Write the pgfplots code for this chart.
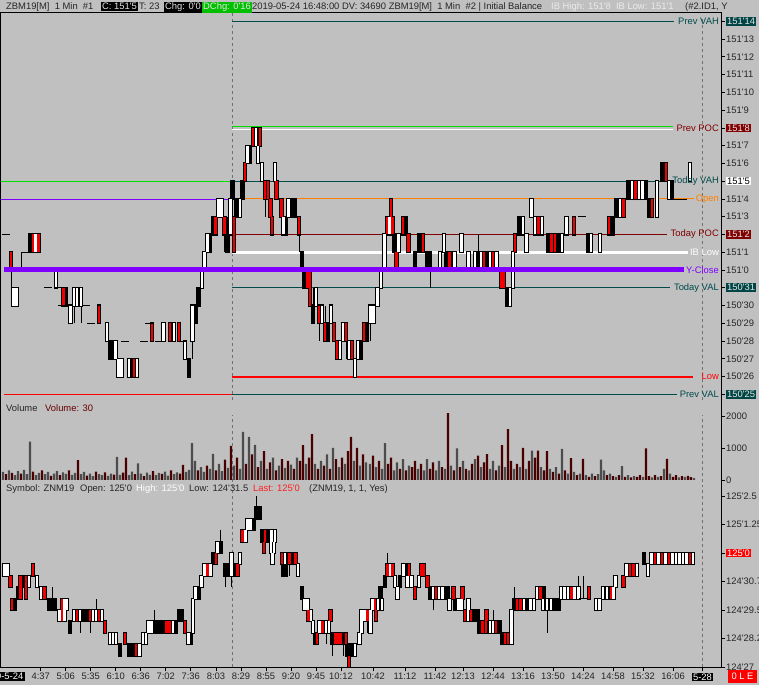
\documentclass[border=0pt]{standalone}
\usepackage{pgfplots}
\pgfplotsset{compat=1.18}
\usepackage{pgfplotstable}
\usepackage{fontspec}
\setmainfont{Liberation Sans}[Ligatures=TeXOff]
\definecolor{bg}{HTML}{C0C0C0}
\definecolor{labc}{HTML}{262626}
\definecolor{tealbox}{HTML}{004545}
\definecolor{tealline}{HTML}{004A4A}
\definecolor{maroon}{HTML}{800000}
\definecolor{boxtxt}{HTML}{E4E4E4}
\definecolor{ycl}{HTML}{8000FF}
\definecolor{openc}{HTML}{FF8000}
\definecolor{grn}{HTML}{00E000}
\definecolor{volg}{HTML}{4C4C4C}
\definecolor{volr}{HTML}{4A0000}
\definecolor{candr}{HTML}{F00000}
\definecolor{dashc}{HTML}{707070}
\definecolor{greenbox}{HTML}{00C000}
\definecolor{lastred}{HTML}{FF2020}
\newcommand{\lab}{\fontsize{9.4}{11}\selectfont}
\setlength{\fboxsep}{1pt}
\newcommand{\hb}[3]{\colorbox{#1}{\textcolor{#2}{#3}}}

\pgfplotstableread[row sep=\\]{
x lo hi c wl wh\\
6 34 34 3 34 34\\ 11 32 33 2 31 33\\ 13.5 30 31 0 30 31\\ 16.5 30 31 0 30 31\\ 21 32 32 3 32 33\\
26 33 33 3 33 33\\ 30.5 33 34 1 33 34\\ 33 33 34 2 33 34\\ 35.5 33 34 0 33 34\\ 38.5 33 34 2 33 34\\
44 32 32 3 32 32\\ 48 31 31 3 31 31\\ 53 32 32 3 32 32\\ 56 31 32 0 31 32\\ 59 31 31 3 31 31\\
62 30 30 3 30 30\\ 63.5 30 31 2 30 31\\ 66 30 31 1 30 31\\ 70.5 29 30 0 29 30\\ 74 30 31 0 29 31\\
77 30 31 0 30 31\\ 81 30 31 0 29 31\\ 86 30 30 3 30 30\\ 91 29 29 3 29 29\\ 99 29 30 2 29 30\\
107 28 29 0 28 29\\ 110 27 28 1 27 28\\ 113 27 28 1 27 28\\ 115.5 27 28 0 27 28\\ 118.5 26 27 0 26 27\\
121.5 26 27 0 26 27\\ 125 28 28 3 28 28\\ 129 26 27 0 26 27\\ 131.5 26 27 1 26 27\\ 134 26 27 2 26 27\\
137 26 27 0 26 27\\ 144 28 28 3 28 28\\ 149 29 29 3 29 29\\ 152 28 29 2 28 29\\ 159 28 28 3 28 28\\
163.5 28 29 0 28 29\\ 170 28 29 2 28 29\\ 174 28 29 0 28 29\\ 179 28 29 2 28 29\\ 182 28 28 3 28 28\\
185 27 28 0 27 28\\ 189 26 27 1 26 27\\ 192.5 28 30 0 27 30\\ 195.5 29 30 1 29 30\\ 198.5 30 31 1 30 31\\
202 31 32 0 31 32\\ 204.5 32 33 0 32 33\\ 207.5 33 34 0 33 34\\ 210 33 34 1 33 34\\ 213 34 35 1 34 35\\
215.5 34 35 2 34 35\\ 218.5 35 36 0 35 36\\ 221.5 35 36 0 35 36\\ 224.5 34 35 2 33 35\\ 227.5 33 34 1 33 35\\
230.5 34 36 0 34 36\\ 232.5 36 37 1 36 37\\ 234 33 35 2 33 36\\ 237 35 36 1 35 36\\ 240 35 36 0 35 36\\
242.5 36 37 1 36 37\\ 245 37 38 2 37 38\\ 247.5 38 39 0 38 39\\ 250 38 39 1 38 39\\ 253 39 40 2 39 40\\
256 39 40 0 39 40\\ 258 38 39 0 38 39\\ 260 39 40 2 39 40\\ 262 37 38 0 37 38\\ 265 36 37 2 35 37\\
268 36 37 2 36 37\\ 270.5 35 36 2 35 36\\ 272 34 35 2 34 35\\ 275 37 38 0 37 38\\ 276.5 36 37 2 36 37\\
281.5 35 36 2 35 36\\ 283.5 34 35 0 34 35\\ 286 34 35 1 34 35\\ 288.5 35 36 0 35 36\\ 291.5 35 36 1 35 36\\
295 35 36 1 35 36\\ 299 34 35 2 33 35\\ 302 32 33 1 32 33\\ 304.5 31 32 1 31 32\\ 307.5 31 32 2 31 32\\
310 30 32 2 30 32\\ 313 29 30 1 29 31\\ 316 30 31 0 30 31\\ 319 29 30 2 28 30\\ 322 29 30 0 29 30\\
325 28 29 2 28 30\\ 328 28 29 1 28 29\\ 331 29 30 0 29 30\\ 334 28 29 2 28 29\\ 337 27 28 2 27 28\\
340 27 28 0 27 28\\ 343 28 29 0 28 29\\ 346 28 29 2 27 29\\ 349 27 28 0 27 28\\ 352 27 28 2 27 28\\
355 26 27 0 26 27\\ 358 27 28 0 27 28\\ 361 27 28 1 27 28\\ 364 28 29 2 28 29\\ 367 28 29 1 28 29\\
370.5 29 30 0 28 30\\ 373.5 29 30 0 29 30\\ 377.5 30 31 0 30 31\\ 381 31 32 0 31 32\\ 384.5 32 34 0 32 34\\
387 34 35 2 34 35\\ 389.5 34 35 0 34 35\\ 391 35 36 2 35 36\\ 392.5 34 35 2 34 35\\ 394.5 33 34 1 33 34\\
396.5 32 33 2 32 33\\ 398.5 33 34 0 33 34\\ 403 34 35 2 34 35\\ 405.5 34 35 1 34 35\\ 408.5 33 34 2 33 34\\
415 32 33 1 32 33\\ 419.5 33 34 1 33 34\\ 423 33 34 2 33 34\\ 427 32 33 1 32 33\\ 430 32 33 1 31 33\\
440 32 33 0 32 33\\ 444 33 34 0 33 34\\ 446.5 32 33 1 32 33\\ 449.5 32 33 2 32 33\\ 454.5 32 33 0 32 33\\
461.5 33 34 0 33 34\\ 468.5 32 33 0 32 33\\ 475 32 33 0 32 33\\ 478 32 33 1 32 34\\ 481 32 33 0 32 33\\
484 32 33 2 32 33\\ 487 32 33 1 32 33\\ 490 32 33 0 32 33\\ 493 32 33 2 32 33\\ 496.5 32 33 0 32 33\\
501.5 31 32 2 31 32\\ 504 31 32 2 31 32\\ 507.5 30 31 1 30 31\\ 510 30 31 0 30 31\\ 513 31 33 0 31 33\\
515 33 34 2 33 34\\ 519 34 35 1 34 35\\ 523 34 35 0 34 35\\ 526.5 33 34 0 33 34\\ 531.5 35 36 0 35 36\\
535 34 35 0 34 35\\ 538.5 34 35 2 34 35\\ 542 34 35 0 34 35\\ 548 33 34 1 33 34\\ 551.5 33 34 2 33 34\\
555 33 34 2 33 34\\ 558.5 33 34 1 33 34\\ 562 33 34 0 33 34\\ 566.5 34 35 0 34 35\\ 574 34 35 2 34 35\\
582 35 35 3 35 35\\ 588 33 34 1 33 34\\ 591 33 34 0 33 34\\ 600 33 34 0 33 34\\ 609 34 35 2 34 35\\
613 34 35 1 34 35\\ 616.5 35 36 1 35 36\\ 620 35 36 0 35 36\\ 623.5 35 36 2 35 36\\ 628.5 36 37 1 36 37\\
632 36 37 0 36 37\\ 635.5 36 37 2 36 37\\ 639 36 37 0 36 37\\ 642.5 36 37 0 36 37\\ 646 36 37 1 36 37\\
649.5 35 36 1 35 36\\ 652 35 36 2 35 36\\ 657 35 37 0 35 37\\ 662 37 38 1 37 38\\ 666 37 38 2 37 38\\
669 36 37 0 36 37\\ 672 36 37 1 36 37\\ 678 36 36 3 36 36\\ 683 36 36 3 36 36\\ 690 37 38 0 37 38\\
}\toptab

\pgfplotstableread[row sep=\\]{
x lo hi c wl wh\\
4.5 31 31.5 0 31 31.5\\ 7.5 31 31.5 0 31 31.5\\ 10.5 30.5 31 2 30.5 31\\ 12 29.5 30 2 29.5 30\\ 14.5 29.5 30 1 29.5 30\\
18 30 30.5 1 30 30.5\\ 20.5 30 31 2 30 31\\ 23.5 30.5 31 1 30.5 31\\ 26 30 31 2 30 31\\ 29 30.5 31 0 30.5 31\\
33 31 31.5 2 31 31.5\\ 37 30.5 31 0 30.5 31\\ 41 30 30.5 0 30 30.5\\ 44.5 30 30.5 2 30 30.5\\ 49 29.5 30 1 29.5 30\\
52 29.5 30 1 29.5 30.5\\ 55 29.5 30 1 29.5 30\\ 59.5 29 29.5 0 29 29.5\\ 62 29 30 2 29 30\\ 64.5 29 30 0 29 30\\
67 29.5 30 0 29.5 30\\ 70 28.5 29 1 28.5 29\\ 74 29 29.5 0 29 29.5\\ 77 29 29.5 2 29 29.5\\ 80 29 29.5 0 28.5 29.5\\
84 29 29.5 1 29 29.5\\ 87 29 29.5 1 29 29.5\\ 90 29 29.5 2 28.5 29.5\\ 93 29 29.5 0 29 29.5\\ 96 29 29.5 0 29 30\\
99 29 29.5 2 29 29.5\\ 102 29 29.5 0 29 29.5\\ 105 28.5 29 2 28.5 29\\ 110 28 28.5 0 28 28.5\\ 113 28 28.5 0 28 28.5\\
116 28 28.5 0 28 28.5\\ 120 27.5 28 1 27.5 28\\ 125 28 28.5 2 28 28.5\\ 129.5 27.5 28 1 27.5 28\\ 133 27.5 28 1 27.5 28\\
136 27.5 28 2 27.5 28\\ 139.5 27.5 28 0 27.5 28\\ 143 28 28.5 0 28 28.5\\ 146 28 28.5 0 28 28.5\\ 148.5 28.5 29 0 28.5 29\\
151.5 28.5 29 0 28.5 29\\ 154.5 28.5 29 1 28.5 29.5\\ 157.5 28.5 29 1 28.5 29\\ 160.5 28.5 29 1 28.5 29\\ 163.5 28.5 29 1 28.5 29\\
166.5 28.5 29 2 28.5 29\\ 169.5 28.5 29 2 28.5 29\\ 173 28.5 29 0 28.5 29\\ 176 28.5 29 1 28.5 29\\ 179 29 29.5 1 29 29.5\\
181.5 29 29.5 1 29 29.5\\ 185 28.5 29 2 28.5 29\\ 188.5 28 28.5 0 28 28.5\\ 190.5 28 28.5 1 28 28.5\\ 193 28.5 30 0 28.5 30\\
195.5 30 30.5 0 30 30.5\\ 199 30 30.5 1 30 30.5\\ 201.5 30.5 31 0 30.5 31\\ 204.5 31 31.5 0 31 31.5\\ 207.5 31 31.5 2 31 31.5\\
210.5 31 31.5 0 31 31.5\\ 213.5 31.5 32 1 31.5 32\\ 216 31.5 32 2 31.5 32\\ 217.5 32 32.5 0 32 32.5\\ 220.5 32 32.5 1 32 33\\
225.5 31 31.5 1 30.5 31.5\\ 228.5 31 31.5 1 31 31.5\\ 231.5 31 32 0 30.5 32\\ 234.5 31 31.5 1 31 31.5\\ 237.5 31 31.5 2 31 31.5\\
240 31.5 32 0 31.5 32\\ 242.5 32.5 33 2 32.5 33\\ 245.5 32.5 33 0 32.5 33\\ 247.5 33 33.5 0 33 33.5\\ 250.5 33 33.5 0 33 33.5\\
253.5 33 33.5 1 33 33.5\\ 256.5 33.5 34 1 33.5 34.5\\ 259.5 33.5 34 1 33.5 34\\ 262 32.5 33 1 32.5 33\\ 264 32 32.5 2 32 32.5\\
265 32.5 33 2 32.5 33\\ 268 32.5 33 1 32.5 33\\ 271.5 32.5 33 0 32.5 33\\ 275 32.5 33 0 32.5 33\\ 271 32 32.5 0 31.5 32.5\\
274 32 32.5 0 32 32.5\\ 272.5 31.5 32 0 31.5 32\\ 282 31.5 32 2 31.5 32\\ 285 31.5 32 0 31.5 32\\ 283 31 31.5 1 31 31.5\\
286 31 31.5 1 31 31.5\\ 289.5 31.5 32 2 31 32\\ 292.5 31.5 32 1 31.5 32\\ 295.5 31.5 32 2 31.5 32\\ 298 31 31.5 0 31 31.5\\
302 30 30.5 1 30 30.5\\ 304.5 29.5 30 0 29.5 30\\ 307.5 29.5 30 0 29.5 30\\ 308.5 29 29.5 2 29 29.5\\ 311 29 29.5 0 28.5 29.5\\
313 28.5 29 0 28.5 29\\ 315 28 28.5 1 28 28.5\\ 317 28 28.5 2 28 28.5\\ 319.5 28.5 29 0 28.5 29\\ 322.5 28.5 29 2 28.5 29\\
326 28.5 29 0 28 29\\ 329 28.5 29 0 28.5 29\\ 330.5 29 29.5 2 29 29.5\\ 332.5 28 28.5 1 27.5 28.5\\ 335.5 28 28.5 2 28 28.5\\
338 28 28.5 2 28 28.5\\ 340.5 28 28.5 2 28 28.5\\ 343 28 28.5 1 27.5 28.5\\ 346 28 28.5 2 28 28.5\\ 347.5 27.5 28 1 27.5 28\\
349 27 27.5 2 27 27.5\\ 351.5 27.5 28 1 27.5 28\\ 355 27.5 28 0 27.5 28\\ 359.5 28 28.5 0 28 28.5\\ 361.5 28.5 29.5 0 28.5 29.5\\
364.5 29 29.5 0 29 29.5\\ 367.5 29 29.5 2 28.5 29.5\\
370.5 28.5 29.5 0 28.5 29.5\\ 372.5 29.5 30 0 29.5 30\\ 375 29.5 30 2 29.5 30\\ 376 29 29.5 2 29 29.5\\ 378 29.5 30 0 29.5 30\\
380.5 30 30.5 1 30 30.5\\ 382 29.5 30 0 29.5 30\\ 385 30.5 31 1 30.5 31\\ 387.5 31 31.5 2 31 32\\ 390 31 31.5 0 31 31.5\\
392.5 31 31.5 2 31 31.5\\ 395 30.5 31 0 30.5 31\\ 397.5 30 30.5 0 30 30.5\\ 400 30.5 31 1 30.5 31\\ 403.5 31 31.5 0 31 31.5\\
406 31 31.5 1 31 31.5\\ 407.5 30.5 31 0 30.5 31\\ 409 31 31.5 2 31 31.5\\ 411.5 30.5 31 0 30.5 31\\ 415 30 30.5 2 30 30.5\\
419 30.5 31 0 30.5 31\\ 421 31 31.5 2 31 31.5\\ 423.5 31 31.5 2 31 31.5\\ 427.5 30.5 31 2 30.5 31\\ 430 30 30.5 1 30 30.5\\
433 30 30.5 0 29.5 30.5\\ 436 30 30.5 2 30 30.5\\ 439 30 30.5 0 30 30.5\\ 442.5 30 30.5 0 30 30.5\\ 447.5 30 30.5 1 30 30.5\\
449.5 29.5 30 0 29.5 30\\ 453.5 30 30.5 2 30 30.5\\ 455.5 29.5 30 1 29.5 30\\ 458.5 29.5 30 0 29.5 30\\ 461.5 29.5 30 0 29.5 30\\
462.5 30 30.5 2 30 30.5\\ 465 29 29.5 2 29 29.5\\ 468 29 29.5 0 29 29.5\\ 468.5 29.5 30 0 29.5 30\\ 471 29 29.5 2 29 29.5\\
475 29 29.5 1 29 29.5\\ 478 29 29.5 1 29 29.5\\ 479.5 28.5 29 1 28.5 29\\ 482.5 28.5 29 2 28.5 29\\ 486.5 29 29.5 2 29 29.5\\
486 28.5 29 2 28.5 29\\ 490 28.5 29 0 28.5 29\\ 493 28.5 29 0 28.5 29.5\\ 496 28.5 29 2 28.5 29\\ 499.5 28.5 29 1 28.5 29\\
502 28 28.5 1 28 28.5\\ 505 28 28.5 2 28 28.5\\ 508 28 28.5 2 28 28.5\\ 511.5 28 29.5 0 28 29.5\\ 514.5 29.5 30 1 29.5 30.5\\
517 29.5 30 2 29.5 30\\ 520.5 29.5 30 2 29.5 30\\ 524 29.5 30 0 29.5 30\\ 527 29.5 30 1 29.5 30\\ 530.5 29.5 30 0 29.5 30\\
534 29.5 30 0 29.5 30\\ 537 30 30.5 0 30 30.5\\ 540.5 30 30.5 2 30 30.5\\ 544 30 30.5 1 30 30.5\\ 543 29.5 30 0 29.5 30\\
547 29.5 30 0 28.5 30\\ 551 29.5 30 0 29.5 30\\ 555 29.5 30 1 29.5 30\\ 558.5 29.5 30 1 29.5 30\\ 561 30 30.5 0 30 30.5\\
564.5 30 30.5 0 30 30.5\\ 568 30 30.5 0 30 30.5\\ 571.5 30 30.5 2 30 30.5\\ 574.5 30 30.5 0 30 30.5\\ 578.5 30 30.5 0 30 31\\
583 30 30 3 30 31\\ 589 30 30.5 2 30 30.5\\ 596 29.5 30 0 29.5 30\\ 599.5 29.5 30 0 29.5 30\\ 603 30 30.5 0 30 30.5\\
607 30 30.5 0 30 30.5\\ 611 30 30.5 2 30 30.5\\ 613.5 30 30.5 0 30 30.5\\ 615.5 30.5 31 0 30.5 31\\ 623.5 30.5 31 2 30.5 31\\
626.5 31 31.5 0 31 31.5\\ 630 31 31.5 2 31 31.5\\ 633.5 31 31.5 2 31 31.5\\ 637 31 31.5 0 31 31.5\\ 644 31.5 32 1 31.5 32\\
648 31 31.5 0 31 31.5\\ 651.5 31.5 32 0 31.5 32\\ 655 31.5 32 2 31.5 32\\ 658.5 31.5 32 0 31.5 32\\ 662 31.5 32 2 31.5 32\\
665.5 31.5 32 0 31.5 32\\ 669 31.5 32 2 31.5 32\\ 672.5 31.5 32 0 31.5 32\\ 676 31.5 32 0 31.5 32\\ 679.5 31.5 32 0 31.5 32\\
683 31.5 32 0 31.5 32\\ 686.5 31.5 32 0 31.5 32\\ 690 31.5 32 2 31.5 32\\ 693 31.5 32 0 31.5 32\\
}\lowtab

\pgfplotstableread[row sep=\\]{
x v c\\
3 250 0\\ 6 180 1\\ 9 300 0\\ 12 220 1\\ 15 150 0\\ 18 280 0\\ 21 200 1\\ 24 320 0\\ 27 180 0\\ 30 1200 0\\
33 260 1\\ 36 150 0\\ 39 220 0\\ 42 300 1\\ 45 180 0\\ 48 250 0\\ 51 130 1\\ 54 200 0\\ 57 280 0\\ 60 150 1\\
63 240 0\\ 66 190 0\\ 69 300 1\\ 72 160 0\\ 75 220 0\\ 78 620 1\\ 81 180 0\\ 84 250 0\\ 87 140 1\\ 90 200 0\\
93 120 0\\ 96 260 1\\ 99 180 0\\ 102 150 0\\ 105 240 1\\ 108 130 0\\ 111 200 0\\ 114 170 1\\ 117 720 0\\ 120 160 0\\
123 230 1\\ 126 700 1\\ 129 150 0\\ 132 260 0\\ 135 180 1\\ 138 520 0\\ 141 200 0\\ 144 120 1\\ 147 230 0\\ 150 160 0\\
153 280 1\\ 156 150 0\\ 159 220 0\\ 162 190 1\\ 165 260 0\\ 168 140 0\\ 171 300 1\\ 174 180 0\\ 177 240 0\\ 180 200 1\\
183 470 1\\ 186 250 0\\ 189 320 0\\ 192 1150 0\\ 195 600 0\\ 198 300 1\\ 201 400 0\\ 204 250 0\\ 207 450 1\\ 210 350 0\\
213 820 0\\ 216 300 1\\ 219 500 0\\ 222 280 0\\ 225 640 1\\ 228 380 0\\ 231 1070 1\\ 234 450 0\\ 237 700 1\\ 240 350 0\\
243 1500 0\\ 246 500 1\\ 249 1350 0\\ 252 800 1\\ 255 1100 0\\ 258 400 1\\ 261 600 0\\ 264 900 1\\ 267 350 0\\ 270 550 1\\
273 700 0\\ 276 300 1\\ 279 450 0\\ 282 650 1\\ 285 380 0\\ 288 600 1\\ 291 480 0\\ 294 350 1\\ 297 700 0\\ 300 600 1\\
303 1090 1\\ 306 500 0\\ 309 700 1\\ 312 1430 1\\ 315 500 0\\ 318 350 1\\ 321 600 0\\ 324 450 1\\ 327 800 0\\ 330 350 1\\
333 1000 0\\ 336 650 1\\ 339 400 0\\ 342 700 1\\ 345 500 0\\ 348 900 1\\ 351 1350 1\\ 354 600 0\\ 357 1000 1\\ 360 450 0\\
363 800 1\\ 366 550 0\\ 370 500 0\\ 373 760 1\\ 376 400 0\\ 379 600 1\\ 382 350 0\\ 385 1150 0\\ 388 500 1\\ 391 700 1\\
394 300 0\\ 397 550 0\\ 400 350 1\\ 403 650 0\\ 406 300 1\\ 409 450 0\\ 412 400 1\\ 415 600 1\\ 418 350 0\\ 421 500 1\\
424 300 0\\ 427 650 0\\ 430 350 1\\ 433 550 1\\ 436 300 0\\ 439 600 0\\ 442 400 1\\ 445 350 0\\ 448 2090 1\\ 451 450 0\\
454 300 1\\ 457 990 0\\ 460 400 1\\ 463 600 0\\ 466 350 1\\ 469 300 0\\ 472 500 1\\ 475 650 0\\ 478 760 1\\ 481 400 0\\
484 550 1\\ 487 810 1\\ 490 350 0\\ 493 600 0\\ 496 300 1\\ 499 450 0\\ 502 1090 1\\ 505 400 0\\ 508 1590 1\\ 511 600 1\\
514 350 0\\ 517 500 1\\ 520 400 0\\ 523 1000 1\\ 526 350 0\\ 529 600 1\\ 532 920 0\\ 535 700 1\\ 538 920 1\\ 541 400 0\\
544 300 1\\ 547 900 1\\ 550 350 0\\ 553 250 1\\ 556 400 0\\ 559 200 1\\ 562 970 0\\ 565 300 1\\ 568 200 0\\ 571 680 1\\
574 250 0\\ 577 150 1\\ 580 200 0\\ 583 660 1\\ 586 150 0\\ 589 100 1\\ 592 200 0\\ 595 120 1\\ 598 180 0\\ 601 640 0\\
604 300 0\\ 607 150 1\\ 610 200 0\\ 613 120 1\\ 616 100 0\\ 619 150 1\\ 622 430 0\\ 625 100 1\\ 628 150 0\\ 631 80 1\\
634 120 0\\ 637 100 1\\ 640 150 1\\ 643 100 0\\ 646 990 1\\ 649 120 1\\ 652 80 0\\ 655 150 1\\ 658 100 0\\ 661 120 1\\
664 350 0\\ 667 660 1\\ 670 200 0\\ 673 100 1\\ 676 150 1\\ 679 80 0\\ 682 120 1\\ 685 100 0\\ 688 130 1\\ 691 90 1\\
694 60 0\\
}\voltab

\pgfplotsset{
  panel/.style={
    scale only axis, width=721pt, xmin=0, xmax=721,
    clip=false,
    axis y line*=right,
    axis line style={-, black, line width=1pt},
    tick style={black, line width=0.8pt},
    tick align=outside,
    major tick length=4pt,
    minor tick num=0,
    ticklabel style={font=\lab, text=labc},
    yticklabel style={anchor=west, inner sep=0pt, xshift=1pt},
  },
  nomk/.style={only marks, mark=none, mark size=0pt, mark options={draw=none, fill=none}},
  seg/.style 2 args={nomk, error bars/.cd, y dir=plus, y explicit, error mark=none,
    error bar style={line width=#1, #2, line cap=butt}, /pgfplots/.cd},
}

\begin{document}
\begin{tikzpicture}
\fill[bg] (0,0) rectangle (759pt,685pt);

% ---------------- top panel ----------------
\begin{axis}[panel, at={(0pt,285pt)}, anchor=south west, height=387.7pt,
  axis x line=none, ymin=24.68, ymax=46.51,
  ytick={25,26,...,46},
  yticklabels={\hb{tealbox}{boxtxt}{150'25},150'26,150'27,150'28,150'29,150'30,\hb{tealbox}{boxtxt}{150'31},
    151'0,151'1,\hb{maroon}{boxtxt}{151'2},151'3,151'4,\hb{white}{black}{151'5},151'6,151'7,\hb{maroon}{boxtxt}{151'8},
    151'9,151'10,151'11,151'12,151'13,\hb{tealbox}{boxtxt}{151'14}}]
\addplot[dashc, dash pattern=on 3pt off 3pt, line width=0.8pt] coordinates {(232,24.68)(232,46.51)};
\addplot[dashc, dash pattern=on 3pt off 3pt, line width=0.8pt] coordinates {(702.5,24.68)(702.5,46.2)};
% level lines
\addplot[tealline, line width=1pt] coordinates {(232,46)(674,46)};
\addplot[grn, line width=1.6pt] coordinates {(232,40.07)(673,40.07)};
\addplot[white, line width=1pt] coordinates {(232,39.93)(673,39.93)};
\addplot[grn, line width=0.8pt] coordinates {(0,37)(232,37)};
\addplot[ycl, line width=0.8pt] coordinates {(0,36)(232,36)};
\addplot[tealline, line width=1pt] coordinates {(232,37)(668,37)};
\addplot[openc, line width=1pt] coordinates {(232,36)(694,36)};
\addplot[maroon, line width=1pt] coordinates {(232,34)(667,34)};
\addplot[white, line width=3pt] coordinates {(232,33)(688,33)};
\addplot[tealline, line width=1pt] coordinates {(232,31)(670,31)};
\addplot[red, line width=2pt] coordinates {(232,26)(693,26)};
\addplot[tealline, line width=1pt] coordinates {(232,25)(677,25)};
\addplot[red, line width=1.3pt] coordinates {(4,25)(232,25)};
% candles
\addplot[seg={1pt}{black}] table[x=x, y=wl, y error expr={\thisrow{wh}-\thisrow{wl}}] {\toptab};
\addplot[x filter/.expression={\thisrow{c}<3 ? x : nan}, seg={4.3pt}{black}]
  table[x=x, y expr={\thisrow{lo}-0.06}, y error expr={\thisrow{hi}-\thisrow{lo}+0.12}] {\toptab};
\addplot[x filter/.expression={\thisrow{c}==0 ? x : nan}, seg={2.3pt}{white}]
  table[x=x, y=lo, y error expr={\thisrow{hi}-\thisrow{lo}}] {\toptab};
\addplot[x filter/.expression={\thisrow{c}==2 ? x : nan}, seg={2.3pt}{candr}]
  table[x=x, y=lo, y error expr={\thisrow{hi}-\thisrow{lo}}] {\toptab};
\addplot[nomk, x filter/.expression={\thisrow{c}==3 ? x : nan},
  error bars/.cd, x dir=both, x explicit, error mark=none, error bar style={line width=0.9pt, black}]
  table[x=x, y=lo, x error expr=4] {\toptab};
\addplot[ycl, line width=5pt] coordinates {(4,32)(684,32)};
% line labels
\node[anchor=east, inner sep=0pt, font=\lab, text=tealline] at (axis cs:719,46) {Prev VAH};
\node[anchor=east, inner sep=0pt, font=\lab, text=maroon] at (axis cs:719,40) {Prev POC};
\node[anchor=east, inner sep=0pt, font=\lab, text=tealline] at (axis cs:719,37) {Today VAH};
\node[anchor=east, inner sep=0pt, font=\lab, text=openc] at (axis cs:719,36) {Open};
\node[anchor=east, inner sep=0pt, font=\lab, text=maroon] at (axis cs:719,34) {Today POC};
\node[anchor=east, inner sep=0pt, font=\lab, text=white] at (axis cs:719,33) {IB Low};
\node[anchor=east, inner sep=0pt, font=\lab, text=ycl] at (axis cs:719,32) {Y-Close};
\node[anchor=east, inner sep=0pt, font=\lab, text=tealline] at (axis cs:719,31) {Today VAL};
\node[anchor=east, inner sep=0pt, font=\lab, text=red] at (axis cs:719,26) {Low};
\node[anchor=east, inner sep=0pt, font=\lab, text=tealline] at (axis cs:719,25) {Prev VAL};
\end{axis}

% ---------------- volume panel ----------------
\begin{axis}[panel, at={(0pt,202pt)}, anchor=south west, height=83pt,
  axis x line=none, ymin=-94, ymax=2500,
  ytick={0,1000,2000}, yticklabels={0,1000,2000}]
\addplot[dashc, dash pattern=on 3pt off 3pt, line width=0.8pt] coordinates {(232,-60)(232,2030)};
\addplot[dashc, dash pattern=on 3pt off 3pt, line width=0.8pt] coordinates {(702.5,-60)(702.5,2030)};
\addplot[ybar, bar width=2.4pt, bar shift=0pt, fill=volg, draw=none, x filter/.expression={\thisrow{c}==0 ? x : nan}] table[x=x, y=v] {\voltab};
\addplot[ybar, bar width=2.4pt, bar shift=0pt, fill=volr, draw=none, x filter/.expression={\thisrow{c}==1 ? x : nan}] table[x=x, y=v] {\voltab};
\end{axis}

% ---------------- lower panel ----------------
\begin{axis}[panel, at={(0pt,17.7pt)}, anchor=south west, height=184.3pt,
  axis x line*=bottom, ymin=26.99, ymax=35.07,
  ytick={27,28.25,29.5,30.75,32,33.25,34.5},
  yticklabels={124'27,124'28.25,124'29.5,124'30.75,\hb{red}{white}{125'0},125'1.25,125'2.5},
  xtick={40.7,65.7,90.7,115.7,140.7,165.7,190.7,216,241,266,291,316,341,373,405,435,463,493,523,553,583,613,643,673,702.5},
  xticklabels={4:37,5:06,5:35,6:10,6:36,7:02,7:36,8:03,8:29,8:55,9:20,9:45,10:12,10:42,11:12,11:42,12:13,12:44,13:16,13:50,14:24,14:58,15:32,16:06,\hb{black}{white}{5-28}},
  xticklabel style={anchor=north, inner sep=0pt, yshift=-1pt}]
\addplot[dashc, dash pattern=on 3pt off 3pt, line width=0.8pt] coordinates {(232,26.99)(232,34.98)};
\addplot[dashc, dash pattern=on 3pt off 3pt, line width=0.8pt] coordinates {(702.5,26.99)(702.5,34.98)};
\addplot[seg={1pt}{black}] table[x=x, y=wl, y error expr={\thisrow{wh}-\thisrow{wl}}] {\lowtab};
\addplot[x filter/.expression={\thisrow{c}<3 ? x : nan}, seg={4.3pt}{black}]
  table[x=x, y expr={\thisrow{lo}-0.045}, y error expr={\thisrow{hi}-\thisrow{lo}+0.09}] {\lowtab};
\addplot[x filter/.expression={\thisrow{c}==0 ? x : nan}, seg={2.3pt}{white}]
  table[x=x, y=lo, y error expr={\thisrow{hi}-\thisrow{lo}}] {\lowtab};
\addplot[x filter/.expression={\thisrow{c}==2 ? x : nan}, seg={2.3pt}{candr}]
  table[x=x, y=lo, y error expr={\thisrow{hi}-\thisrow{lo}}] {\lowtab};
\addplot[nomk, x filter/.expression={\thisrow{c}==3 ? x : nan},
  error bars/.cd, x dir=both, x explicit, error mark=none, error bar style={line width=0.9pt, black}]
  table[x=x, y=lo, x error expr=4] {\lowtab};
\end{axis}

% frame
\draw[black, line width=1pt] (0.5pt,17.7pt) -- (0.5pt,672.7pt) -- (721pt,672.7pt);

% header
\begin{scope}[every node/.style={anchor=base west, inner sep=0pt, font=\lab, text=labc}]
\node at (6pt,675pt) {ZBM19[M]\ \ 1 Min\ \ \#1};
\node at (101pt,675pt) {\hb{black}{boxtxt}{C: 151'5}};
\node at (139pt,675pt) {T: 23};
\node at (164pt,675pt) {\hb{black}{boxtxt}{Chg: 0'0}};
\node at (202pt,675pt) {\hb{greenbox}{boxtxt}{DChg: 0'16}};
\node at (252pt,675pt) {2019-05-24 16:48:00 DV: 34690 ZBM19[M]\ \ 1 Min\ \ \#2 | Initial Balance};
\node[text=white!92!black] at (551pt,675pt) {IB High: 151'8\ \ IB Low: 151'1};
\node at (685pt,675pt) {(\#2.ID1, Y};
\node at (6pt,273pt) {Volume};
\node[text=black!60!red] at (45pt,273pt) {Volume: 30};
\node at (6pt,193pt) {Symbol: ZNM19};
\node at (80pt,193pt) {Open: 125'0};
\node[text=white] at (136pt,193pt) {High: 125'0};
\node at (189pt,193pt) {Low: 124'31.5};
\node[text=lastred] at (253pt,193pt) {Last: 125'0};
\node at (309pt,193pt) {(ZNM19, 1, 1, Yes)};
\end{scope}
\node[anchor=east, fill=black, text=white, font=\lab, inner sep=1.5pt] at (25pt,8.5pt) {9-5-24};
\node[fill=red, text=white, font=\lab, minimum width=29pt, minimum height=13pt, inner sep=0pt] at (742.5pt,8.5pt) {0 L E};

\pgfresetboundingbox
\useasboundingbox (0,0) rectangle (759pt,685pt);
\end{tikzpicture}
\end{document}
